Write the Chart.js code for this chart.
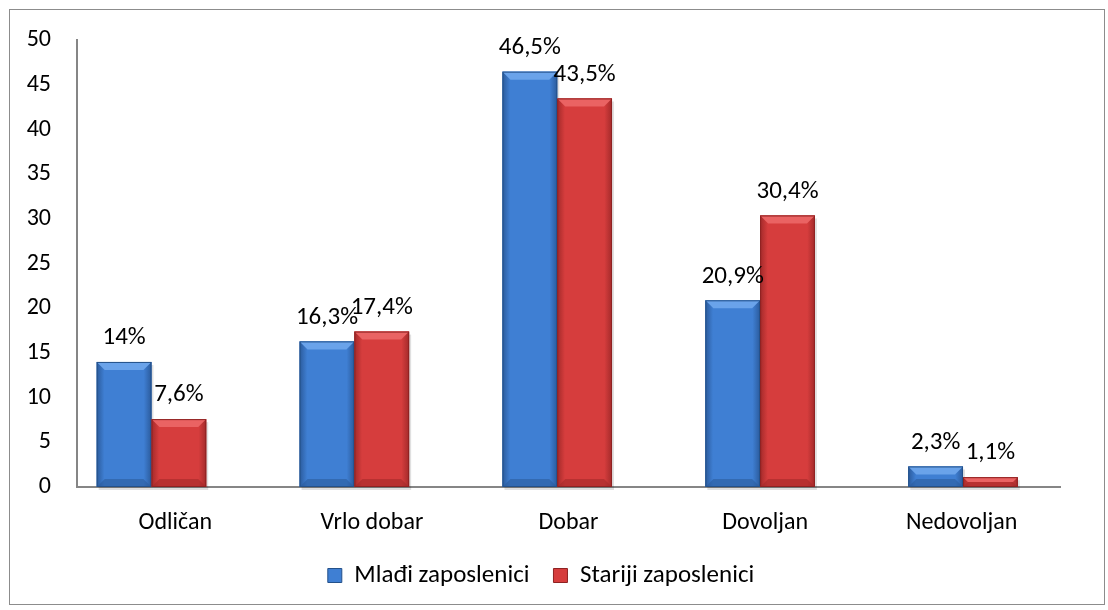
<!DOCTYPE html>
<html>
<head>
<meta charset="utf-8">
<script src="https://cdn.jsdelivr.net/npm/chart.js@4"></script>
<style>
  body { margin: 0; background: #fff; }
  #wrap { position: relative; width: 1108px; height: 610px; }
  #frame { position: absolute; left: 9px; top: 9px; width: 1094px; height: 594px; border: 1px solid #8c8c8c; pointer-events: none; }
</style>
</head>
<body>
<div id="wrap">
  <canvas id="chart-canvas" width="1108" height="610"></canvas>
  <div id="frame"></div>
</div>
<script>
// Chart data
const categories = ['Odličan', 'Vrlo dobar', 'Dobar', 'Dovoljan', 'Nedovoljan'];
const seriesNames = ['Mlađi zaposlenici', 'Stariji zaposlenici'];
const mladi = [14, 16.3, 46.5, 20.9, 2.3];
const stariji = [7.6, 17.4, 43.5, 30.4, 1.1];
const mladiLabels = ['14%', '16,3%', '46,5%', '20,9%', '2,3%'];
const starijiLabels = ['7,6%', '17,4%', '43,5%', '30,4%', '1,1%'];

const FONT = "Carlito, Lato, 'Open Sans', sans-serif";

// Colors for the two series
const palette = {
  blue: { mid: '#3f7fd3', light: '#6aa3ea', dark: '#2b5b9c', edge: '#24518a' },
  red: { mid: '#d63d3d', light: '#ea6363', dark: '#a32a2a', edge: '#8e2222' }
};

// bars sit on their own (hidden) index axis, the labels on the category axis
const toPoints = arr => arr.map((v, i) => ({ x: i, y: v }));

// Draw bevelled bars over the plain ones
const bevelPlugin = {
  id: 'bevel',
  afterDatasetsDraw(chart) {
    const ctx = chart.ctx;
    chart.data.datasets.forEach((ds, di) => {
      const c = di === 0 ? palette.blue : palette.red;
      chart.getDatasetMeta(di).data.forEach(bar => {
        const left = bar.x - bar.width / 2;
        const right = bar.x + bar.width / 2;
        const top = bar.y;
        const bottom = bar.base;
        const h = bottom - top;
        const b = Math.min(8, h / 2, bar.width / 4);
        ctx.save();
        // soft shadow
        ctx.fillStyle = 'rgba(0,0,0,0.12)';
        ctx.fillRect(left + 2, top + 3, right - left, h);
        // body gradient
        const g = ctx.createLinearGradient(left, 0, right, 0);
        g.addColorStop(0, c.dark);
        g.addColorStop(0.14, c.mid);
        g.addColorStop(0.86, c.mid);
        g.addColorStop(1, c.dark);
        ctx.fillStyle = g;
        ctx.fillRect(left, top, right - left, h);
        // top bevel
        ctx.fillStyle = c.light;
        ctx.beginPath();
        ctx.moveTo(left, top);
        ctx.lineTo(right, top);
        ctx.lineTo(right - b, top + b);
        ctx.lineTo(left + b, top + b);
        ctx.closePath();
        ctx.fill();
        // bottom bevel
        ctx.fillStyle = c.dark;
        ctx.globalAlpha = 0.6;
        ctx.beginPath();
        ctx.moveTo(left, bottom);
        ctx.lineTo(right, bottom);
        ctx.lineTo(right - b, bottom - b);
        ctx.lineTo(left + b, bottom - b);
        ctx.closePath();
        ctx.fill();
        ctx.globalAlpha = 1;
        ctx.strokeStyle = c.edge;
        ctx.lineWidth = 1;
        ctx.strokeRect(left + 0.5, top + 0.5, right - left - 1, h - 1);
        ctx.restore();
      });
    });
  }
};

// Value labels above each bar
const labelPlugin = {
  id: 'valueLabels',
  afterDatasetsDraw(chart) {
    const ctx = chart.ctx;
    const texts = [mladiLabels, starijiLabels];
    ctx.save();
    ctx.font = '25px ' + FONT;
    ctx.fillStyle = '#000';
    ctx.textAlign = 'center';
    ctx.textBaseline = 'middle';
    chart.data.datasets.forEach((ds, di) => {
      chart.getDatasetMeta(di).data.forEach((bar, i) => {
        ctx.fillText(texts[di][i], bar.x, bar.y - 24);
      });
    });
    ctx.restore();
  }
};

const ctx = document.getElementById('chart-canvas').getContext('2d');
new Chart(ctx, {
  type: 'bar',
  data: {
    labels: categories,
    datasets: [
      { label: seriesNames[0], data: toPoints(mladi), xAxisID: 'xb', backgroundColor: palette.blue.mid, borderWidth: 0 },
      { label: seriesNames[1], data: toPoints(stariji), xAxisID: 'xb', backgroundColor: palette.red.mid, borderWidth: 0 }
    ]
  },
  options: {
    responsive: false,
    animation: false,
    devicePixelRatio: 1,
    layout: { padding: { left: 22, right: 48, top: 38, bottom: 12 } },
    datasets: { bar: { barPercentage: 1, categoryPercentage: 0.54 } },
    scales: {
      x: {
        type: 'category',
        grid: { display: false, drawTicks: false },
        border: { color: '#868686', width: 2 },
        ticks: { color: '#000', font: { family: FONT, size: 24 }, padding: 22 },
        afterFit: s => { s.height = 52; }
      },
      xb: {
        type: 'linear',
        display: false,
        offset: false,
        bounds: 'data',
        min: -0.367,
        max: 4.478,
        ticks: { stepSize: 1 },
        // keep only whole-number ticks so bar width follows the category spacing
        afterBuildTicks: s => { s.ticks = s.ticks.filter(t => Number.isInteger(t.value)); }
      },
      y: {
        min: 0,
        max: 50,
        grid: { display: false, drawTicks: false },
        border: { color: '#868686', width: 2 },
        ticks: { stepSize: 5, color: '#000', font: { family: FONT, size: 24 }, padding: 26 },
        afterFit: s => { s.width = 55; }
      }
    },
    plugins: {
      tooltip: { enabled: false },
      legend: {
        position: 'bottom',
        labels: {
          color: '#000',
          font: { family: FONT, size: 25 },
          boxWidth: 14,
          boxHeight: 14,
          padding: 24,
          generateLabels: chart => chart.data.datasets.map((ds, i) => ({
            text: ds.label,
            fillStyle: i === 0 ? palette.blue.mid : palette.red.mid,
            strokeStyle: i === 0 ? palette.blue.edge : palette.red.edge,
            lineWidth: 1,
            datasetIndex: i
          }))
        }
      }
    }
  },
  plugins: [bevelPlugin, labelPlugin]
});
</script>
</body>
</html>
